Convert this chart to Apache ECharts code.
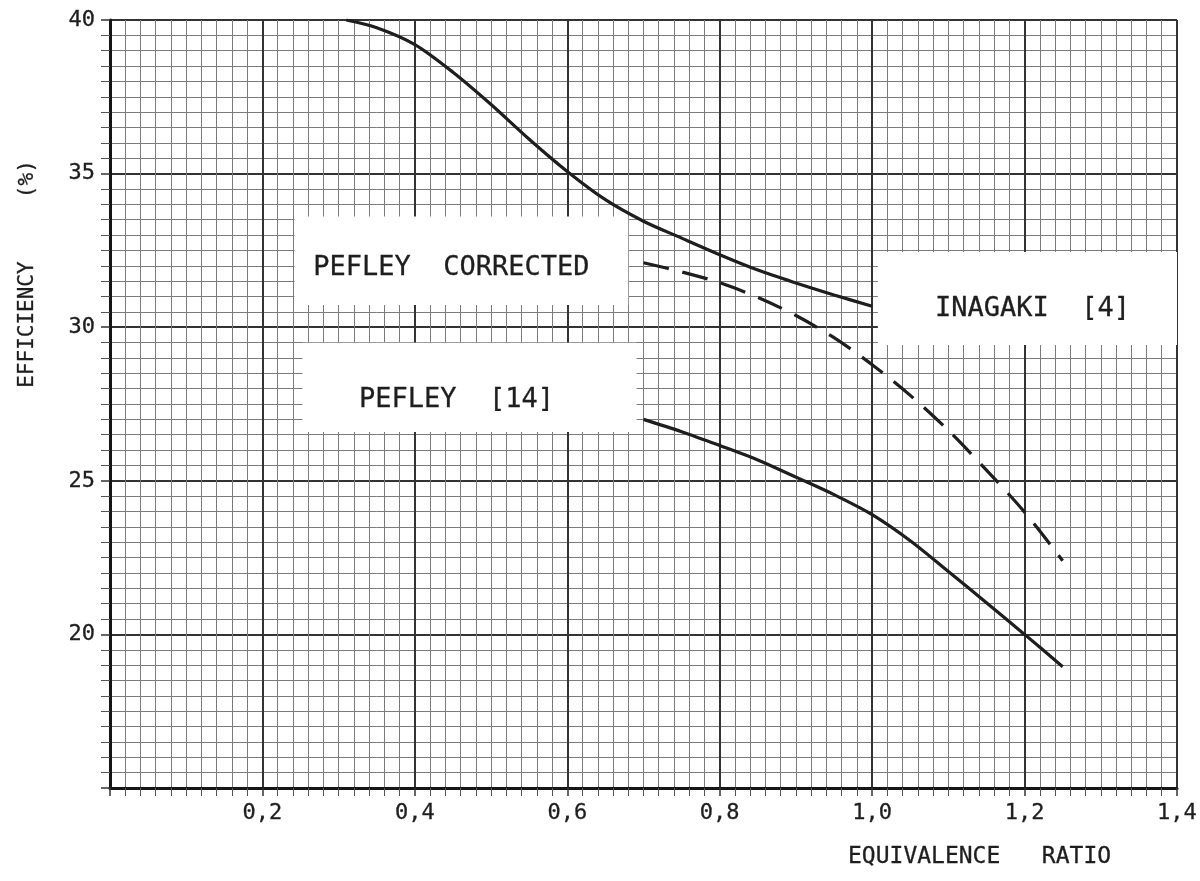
<!DOCTYPE html>
<html>
<head>
<meta charset="utf-8">
<title>Efficiency vs equivalence ratio</title>
<script src="https://cdn.jsdelivr.net/npm/echarts@6/dist/echarts.min.js"></script>
<style>
  html, body { margin: 0; padding: 0; background: #ffffff; }
  #chart { width: 1200px; height: 881px; }
</style>
</head>
<body>
<div id="chart"></div>
<script>
// Pefley, corrected (solid, upper)
const pefleyCorrPhi = [0.31, 0.35, 0.40, 0.45, 0.50, 0.55, 0.60, 0.65, 0.70, 0.75, 0.80, 0.85, 0.90, 0.95, 1.00];
const pefleyCorrEff = [40.0, 39.75, 39.2, 38.3, 37.25, 36.12, 35.07, 34.15, 33.45, 32.9, 32.36, 31.86, 31.44, 31.05, 30.68];

// Inagaki [4] (dashed)
const inagakiPhi = [0.70, 0.75, 0.80, 0.85, 0.90, 0.95, 1.00, 1.05, 1.10, 1.15, 1.20, 1.25];
const inagakiEff = [32.1, 31.8, 31.45, 30.97, 30.38, 29.66, 28.78, 27.78, 26.64, 25.35, 23.98, 22.4];

// Pefley [14] (solid, lower)
const pefleyPhi = [0.70, 0.75, 0.80, 0.85, 0.90, 0.95, 1.00, 1.05, 1.10, 1.15, 1.20, 1.25];
const pefleyEff = [27.0, 26.6, 26.15, 25.68, 25.12, 24.55, 23.9, 23.05, 22.05, 21.03, 20.0, 18.95];

// Axis ticks
const xTicks = [0, 0.2, 0.4, 0.6, 0.8, 1.0, 1.2, 1.4];
const yTicks = [15, 20, 25, 30, 35, 40];

// Curve labels and the paper patches they are written on (data units)
const labelTexts = ['PEFLEY  CORRECTED', 'INAGAKI  [4]', 'PEFLEY  [14]'];
const labelPatches = [
  [[0.242, 33.6], [0.68, 30.72]],
  [[1.0075, 32.45], [1.4, 29.42]],
  [[0.2525, 29.49], [0.691, 26.59]]
];

const FONT = 'DejaVu Sans Mono';
const INK = '#1e1e1e';

function pairs(xs, ys) { return xs.map((x, i) => [x, ys[i]]); }
function commaNum(v) { return v.toFixed(1).replace('.', ','); }

function patch(i, offset) {
  return {
    silent: true,
    itemStyle: { color: '#ffffff', opacity: 1 },
    label: {
      show: true, position: 'inside', offset: offset,
      color: INK, fontFamily: FONT, fontSize: 27,
      textBorderColor: INK, textBorderWidth: 0.3,
      formatter: labelTexts[i]
    },
    data: [[
      { xAxis: labelPatches[i][0][0], yAxis: labelPatches[i][0][1] },
      { xAxis: labelPatches[i][1][0], yAxis: labelPatches[i][1][1] }
    ]]
  };
}

const chart = echarts.init(document.getElementById('chart'), null, { renderer: 'canvas' });

chart.setOption({
  backgroundColor: '#ffffff',
  animation: false,
  grid: { left: 110, right: 20, top: 20, bottom: 93, containLabel: false },
  xAxis: {
    type: 'value',
    min: xTicks[0], max: xTicks[xTicks.length - 1], interval: 0.2,
    axisLine: { show: true, onZero: false, lineStyle: { color: '#151515', width: 3 } },
    axisTick: { show: true, length: 8, lineStyle: { color: '#333', width: 1.5 } },
    minorTick: { show: true, splitNumber: 10, length: 8, lineStyle: { color: '#555', width: 1 } },
    splitLine: { show: true, lineStyle: { color: '#333', width: 2 } },
    minorSplitLine: { show: true, lineStyle: { color: '#7a7a7a', width: 1 } },
    axisLabel: {
      margin: 14, color: INK, fontFamily: FONT, fontSize: 22,
      textBorderColor: INK, textBorderWidth: 0.3,
      formatter: v => (Math.abs(v) < 1e-9 ? '' : commaNum(v))
    }
  },
  yAxis: {
    type: 'value',
    min: yTicks[0], max: yTicks[yTicks.length - 1], interval: 5,
    axisLine: { show: true, onZero: false, lineStyle: { color: '#151515', width: 3 } },
    axisTick: { show: true, length: 9, lineStyle: { color: '#333', width: 1.5 } },
    minorTick: { show: true, splitNumber: 10, length: 9, lineStyle: { color: '#555', width: 1 } },
    splitLine: { show: true, lineStyle: { color: '#333', width: 2 } },
    minorSplitLine: { show: true, lineStyle: { color: '#7a7a7a', width: 1 } },
    axisLabel: {
      margin: 15, color: INK, fontFamily: FONT, fontSize: 22,
      textBorderColor: INK, textBorderWidth: 0.3,
      formatter: v => (v === yTicks[0] ? '' : String(v))
    }
  },
  series: [
    {
      name: 'Pefley corrected', type: 'line', smooth: 0.3, showSymbol: false,
      lineStyle: { color: INK, width: 3.2 },
      data: pairs(pefleyCorrPhi, pefleyCorrEff),
      markArea: patch(0, [-10, 7])
    },
    {
      name: 'Inagaki [4]', type: 'line', smooth: 0.3, showSymbol: false,
      lineStyle: { color: INK, width: 3.2, type: [26, 14] },
      data: pairs(inagakiPhi, inagakiEff),
      markArea: patch(1, [5, 11])
    },
    {
      name: 'Pefley [14]', type: 'line', smooth: 0.3, showSymbol: false,
      lineStyle: { color: INK, width: 3.2 },
      data: pairs(pefleyPhi, pefleyEff),
      markArea: patch(2, [-13, 13])
    }
  ],
  graphic: [
    {
      type: 'text', x: 28, y: 274, rotation: Math.PI / 2,
      style: {
        text: 'EFFICIENCY     (%)', fill: INK, font: '21px "' + FONT + '"',
        stroke: INK, lineWidth: 0.3,
        align: 'center', verticalAlign: 'middle'
      }
    },
    {
      type: 'text', x: 848, y: 857,
      style: {
        text: 'EQUIVALENCE   RATIO', fill: INK, font: '23px "' + FONT + '"',
        stroke: INK, lineWidth: 0.3,
        align: 'left', verticalAlign: 'middle'
      }
    }
  ]
});
</script>
</body>
</html>
